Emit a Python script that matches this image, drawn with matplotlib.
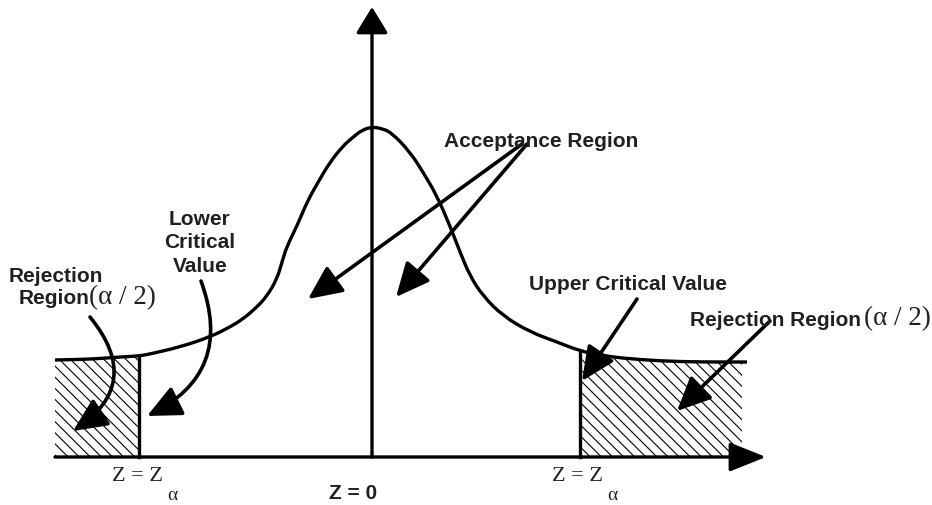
import numpy as np
import matplotlib.pyplot as plt
from matplotlib.patches import FancyArrowPatch, PathPatch
from matplotlib.path import Path

# bell curve (pixel space, y grows downward)
curve_x = [55, 80, 100, 120, 139, 150, 180, 210, 230, 243, 257, 267, 277, 282, 287,
           297, 307, 317, 330, 343, 352, 362, 372, 382, 392, 410, 423, 437, 450, 460, 470,
           483, 503, 530, 557, 580, 600, 620, 660, 700, 742, 747]
curve_y = [361, 360.5, 359.5, 358, 357, 355, 348, 338, 328, 320, 308, 297, 280, 263, 247,
           227, 203, 185, 163, 147, 139, 131, 128, 129.5, 134, 153, 173, 197, 227, 253, 277,
           297, 317, 333, 343, 352, 356, 359, 362, 363, 363, 363]

baseline = 458
lower_crit = 139
upper_crit = 580
left_edge = 55
right_edge = 742

labels_bold = ["Acceptance Region", "Lower\nCritical\nValue", "Rejection", "Region",
               "Upper Critical Value", "Rejection Region", "Z = 0"]

plt.rcParams['hatch.linewidth'] = 0.8
fig = plt.figure(figsize=(9.32, 5.06), dpi=100)
ax = fig.add_axes([0, 0, 1, 1])
ax.set_xlim(0, 932)
ax.set_ylim(506, 0)
ax.axis('off')

cx = np.array(curve_x, dtype=float)
cy = np.array(curve_y, dtype=float)
k = 'black'
lw = 2.4

# hatched rejection regions
m = (cx >= left_edge) & (cx <= lower_crit)
ax.fill_between(cx[m], cy[m], baseline, facecolor='none', edgecolor=k,
                hatch='\\\\\\', linewidth=0)
m = (cx >= upper_crit) & (cx <= right_edge)
ax.fill_between(cx[m], cy[m], baseline, facecolor='none', edgecolor=k,
                hatch='\\\\\\', linewidth=0)

# smooth curve: read points used as quadratic control points
pts = np.column_stack([cx, cy])
verts = [pts[0]]
codes = [Path.MOVETO]
for i in range(1, len(pts) - 1):
    verts += [pts[i], (pts[i] + pts[i + 1]) / 2]
    codes += [Path.CURVE3, Path.CURVE3]
verts.append(pts[-1])
codes.append(Path.LINETO)
ax.add_patch(PathPatch(Path(verts, codes), facecolor='none', edgecolor=k, lw=lw))

# critical value lines
ax.plot([lower_crit, lower_crit], [curve_y[curve_x.index(lower_crit)], baseline], color=k, lw=lw)
ax.plot([upper_crit, upper_crit], [curve_y[curve_x.index(upper_crit)], baseline], color=k, lw=lw)

# axes with arrow heads
ax.annotate("", xy=(766, baseline), xytext=(left_edge, baseline),
            arrowprops=dict(arrowstyle="-|>,head_length=1.25,head_width=0.5",
                            mutation_scale=18, lw=lw, color=k, shrinkA=0, shrinkB=0))
ax.annotate("", xy=(372, 8), xytext=(372, baseline),
            arrowprops=dict(arrowstyle="-|>,head_length=0.9,head_width=0.55",
                            mutation_scale=18, lw=lw, color=k, shrinkA=0, shrinkB=0))

ink = '#231f20'
bold = dict(fontsize=15, fontweight='bold', family='Liberation Sans', color=ink)
serif = dict(family='Liberation Serif', color=ink)


def arrow(p0, p1, rad=0.0):
    a = FancyArrowPatch(p0, p1, connectionstyle=f"arc3,rad={rad}",
                        arrowstyle="-|>,head_length=1.3,head_width=0.6",
                        mutation_scale=16, lw=2.6, color=k, shrinkA=0, shrinkB=0)
    ax.add_patch(a)


# acceptance region
ax.text(541, 141, labels_bold[0], ha='center', va='center', **bold)
arrow((522, 145), (308, 300))
arrow((527, 145), (396, 298))

# lower critical value
ax.text(200, 243, labels_bold[1], ha='center', va='center', linespacing=1.27, **bold)
arrow((201, 282), (147, 417), rad=-0.45)

# left rejection region
ax.text(56, 277, labels_bold[2], ha='center', va='center', **bold)
ax.text(89, 298, labels_bold[3], ha='right', va='center', **bold)
ax.text(89, 298, "(α / 2)", ha='left', va='center', fontsize=19.5, **serif)
arrow((90, 318), (73, 432), rad=-0.55)

# upper critical value
ax.text(628, 284, labels_bold[4], ha='center', va='center', **bold)
arrow((637, 300), (582, 382))

# right rejection region
ax.text(861, 320, labels_bold[5], ha='right', va='center', **bold)
ax.text(864, 319, "(α / 2)", ha='left', va='center', fontsize=19.5, **serif)
arrow((770, 322), (677, 412))

# bottom labels
ax.text(353, 494, labels_bold[6], ha='center', va='center', **bold)
for zx in [112, 552]:
    ax.text(zx, 477, "Z = Z", ha='left', va='center', fontsize=16, **serif)
    ax.text(zx + 55, 496, "α", ha='left', va='center', fontsize=14, **serif)

fig.savefig("out.png", dpi=100)
